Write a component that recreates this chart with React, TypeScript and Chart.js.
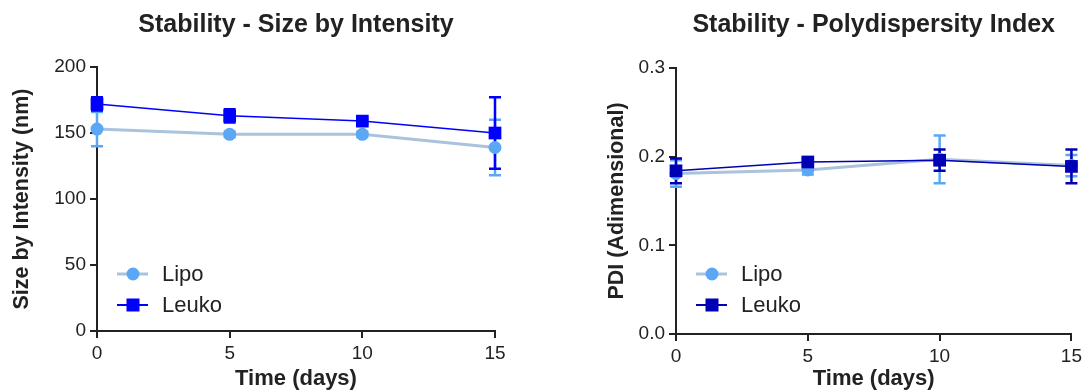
import React, { useEffect, useRef } from "react";
import { Chart, registerables } from "chart.js";

Chart.register(...registerables);

// ---------- data ----------
const days = [0, 5, 10, 15];
const xTicks = [0, 5, 10, 15];

const lipoSize = [153, 149, 149, 139];
const lipoSizeErr = [13, 2, 2, 21];
const leukoSize = [172, 163, 159, 150];
const leukoSizeErr = [5, 5, 2, 27];
const sizeTicks = [0, 50, 100, 150, 200];

const lipoPdi = [0.181, 0.185, 0.197, 0.19];
const lipoPdiErr = [0.015, 0.005, 0.027, 0.012];
const leukoPdi = [0.184, 0.194, 0.196, 0.189];
const leukoPdiErr = [0.014, 0.003, 0.012, 0.019];
const pdiTicks = [0, 0.1, 0.2, 0.3];

const seriesNames = ["Lipo", "Leuko"];

// ---------- styles ----------
const FONT = "'Liberation Sans', Arial, sans-serif";
const INK = "#222222";
const LIPO_MARK = "#5aa8f5";
const LIPO_LINE = "#aac3dc";

const errorBarPlugin = {
  id: "errorBars",
  beforeDatasetsDraw(chart: any) {
    const ctx = chart.ctx;
    const yScale = chart.scales.y;
    const order = chart.data.datasets
      .map((d: any, i: number) => i)
      .sort((a: number, b: number) => (chart.data.datasets[b].order ?? 0) - (chart.data.datasets[a].order ?? 0));
    order.forEach((i: number) => {
      const ds = chart.data.datasets[i];
      const meta = chart.getDatasetMeta(i);
      ctx.save();
      ctx.strokeStyle = ds.errorColor;
      ctx.lineWidth = 2.5;
      meta.data.forEach((pt: any, j: number) => {
        const v = ds.data[j].y;
        const e = ds.errors[j];
        const yTop = yScale.getPixelForValue(v + e);
        const yBot = yScale.getPixelForValue(v - e);
        const x = pt.x;
        const cap = 6;
        ctx.beginPath();
        ctx.moveTo(x, yTop);
        ctx.lineTo(x, yBot);
        ctx.moveTo(x - cap, yTop);
        ctx.lineTo(x + cap, yTop);
        ctx.moveTo(x - cap, yBot);
        ctx.lineTo(x + cap, yBot);
        ctx.stroke();
      });
      ctx.restore();
    });
  },
};

const legendPlugin = {
  id: "insideLegend",
  afterDraw(chart: any) {
    const opts = chart.options.plugins.insideLegend;
    if (!opts) return;
    const ctx = chart.ctx;
    const left = chart.chartArea.left;
    const ys = opts.ys as number[];
    const items = opts.items as any[];
    items.forEach((it: any, k: number) => {
      const y = ys[k];
      const mx = left + 36;
      ctx.save();
      ctx.strokeStyle = it.lineColor;
      ctx.lineWidth = it.lineWidth;
      ctx.beginPath();
      ctx.moveTo(left + 20, y);
      ctx.lineTo(left + 51, y);
      ctx.stroke();
      ctx.fillStyle = it.markColor;
      if (it.shape === "circle") {
        ctx.beginPath();
        ctx.arc(mx, y, 6.5, 0, Math.PI * 2);
        ctx.fill();
      } else {
        ctx.fillRect(mx - 6.5, y - 6.5, 13, 13);
      }
      ctx.fillStyle = INK;
      ctx.font = `22px ${FONT}`;
      ctx.textBaseline = "middle";
      ctx.textAlign = "left";
      ctx.fillText(it.label, left + 65, y + 1);
      ctx.restore();
    });
  },
};

function buildConfig(p: {
  title: string;
  yTitle: string;
  lipo: number[];
  lipoErr: number[];
  leuko: number[];
  leukoErr: number[];
  yTicks: number[];
  leukoColor: string;
  yWidth: number;
  yTitlePad: number;
  titlePadTop: number;
  titlePadBottom: number;
  xHeight: number;
  padRight: number;
  decimals: number;
}) {
  const yMin = p.yTicks[0];
  const yMax = p.yTicks[p.yTicks.length - 1];
  return {
    type: "line",
    data: {
      datasets: [
        {
          label: seriesNames[0],
          data: days.map((d, i) => ({ x: d, y: p.lipo[i] })),
          errors: p.lipoErr,
          errorColor: LIPO_MARK,
          borderColor: LIPO_LINE,
          borderWidth: 3,
          backgroundColor: LIPO_MARK,
          pointBackgroundColor: LIPO_MARK,
          pointBorderColor: LIPO_MARK,
          pointStyle: "circle",
          pointRadius: 6.5,
          pointBorderWidth: 0,
          tension: 0,
          clip: false,
          order: 1,
        },
        {
          label: seriesNames[1],
          data: days.map((d, i) => ({ x: d, y: p.leuko[i] })),
          errors: p.leukoErr,
          errorColor: p.leukoColor,
          borderColor: p.leukoColor,
          borderWidth: 1.5,
          backgroundColor: p.leukoColor,
          pointBackgroundColor: p.leukoColor,
          pointBorderColor: p.leukoColor,
          pointStyle: "rect",
          pointRadius: 9,
          pointBorderWidth: 0,
          tension: 0,
          clip: false,
          order: 0,
        },
      ],
    },
    options: {
      animation: false,
      responsive: false,
      maintainAspectRatio: false,
      layout: { padding: { left: 0, right: p.padRight, top: 0, bottom: 0 } },
      plugins: {
        legend: { display: false },
        tooltip: { enabled: false },
        title: {
          display: true,
          text: p.title,
          fullSize: false,
          color: INK,
          font: { family: FONT, size: 25, weight: "bold" },
          padding: { top: p.titlePadTop, bottom: p.titlePadBottom },
        },
        insideLegend: {
          ys: [274, 305],
          items: [
            { label: seriesNames[0], shape: "circle", markColor: LIPO_MARK, lineColor: LIPO_LINE, lineWidth: 3 },
            { label: seriesNames[1], shape: "rect", markColor: p.leukoColor, lineColor: p.leukoColor, lineWidth: 2 },
          ],
        },
      },
      scales: {
        x: {
          type: "linear",
          min: xTicks[0],
          max: xTicks[xTicks.length - 1],
          afterBuildTicks: (s: any) => {
            s.ticks = xTicks.map((v) => ({ value: v }));
          },
          afterFit: (s: any) => {
            s.height = p.xHeight;
          },
          grid: { display: true, drawOnChartArea: false, drawTicks: true, tickLength: 7, lineWidth: 2, color: INK },
          border: { display: true, width: 2, color: INK },
          ticks: { color: INK, font: { family: FONT, size: 19 }, padding: 4, maxRotation: 0 },
          title: {
            display: true,
            text: "Time (days)",
            color: INK,
            font: { family: FONT, size: 22, weight: "bold" },
            padding: { top: 0, bottom: 0 },
          },
        },
        y: {
          type: "linear",
          min: yMin,
          max: yMax,
          afterBuildTicks: (s: any) => {
            s.ticks = p.yTicks.map((v) => ({ value: v }));
          },
          afterFit: (s: any) => {
            s.width = p.yWidth;
          },
          grid: { display: true, drawOnChartArea: false, drawTicks: true, tickLength: 7, lineWidth: 2, color: INK },
          border: { display: true, width: 2, color: INK },
          ticks: {
            color: INK,
            font: { family: FONT, size: 19 },
            padding: 4,
            callback: (v: any) => Number(v).toFixed(p.decimals),
          },
          title: {
            display: true,
            text: p.yTitle,
            color: INK,
            font: { family: FONT, size: 21.5, weight: "bold" },
            padding: { top: p.yTitlePad, bottom: 0 },
          },
        },
      },
    },
    plugins: [errorBarPlugin, legendPlugin],
  } as any;
}

function ChartCanvas(props: { left: number; width: number; config: any }) {
  const ref = useRef<HTMLCanvasElement | null>(null);
  useEffect(() => {
    if (!ref.current) return;
    const chart = new Chart(ref.current, props.config);
    return () => chart.destroy();
  }, []);
  return (
    <canvas
      ref={ref}
      width={props.width}
      height={392}
      style={{ position: "absolute", left: props.left, top: 0, width: props.width, height: 392 }}
    />
  );
}

export default function App() {
  const leftConfig = buildConfig({
    title: "Stability - Size by Intensity",
    yTitle: "Size by Intensity (nm)",
    lipo: lipoSize,
    lipoErr: lipoSizeErr,
    leuko: leukoSize,
    leukoErr: leukoSizeErr,
    yTicks: sizeTicks,
    leukoColor: "#0000ff",
    yWidth: 97,
    yTitlePad: 9,
    titlePadTop: 10,
    titlePadBottom: 27,
    xHeight: 392 - 331,
    padRight: 45,
    decimals: 0,
  });
  const rightConfig = buildConfig({
    title: "Stability - Polydispersity Index",
    yTitle: "PDI (Adimensional)",
    lipo: lipoPdi,
    lipoErr: lipoPdiErr,
    leuko: leukoPdi,
    leukoErr: leukoPdiErr,
    yTicks: pdiTicks,
    leukoColor: "#0000b4",
    yWidth: 116,
    yTitlePad: 44,
    titlePadTop: 10,
    titlePadBottom: 28,
    xHeight: 392 - 334,
    padRight: 12,
    decimals: 1,
  });
  return (
    <div style={{ position: "absolute", left: 0, top: 0, width: 1086, height: 392, background: "#fff" }}>
      <ChartCanvas left={0} width={540} config={leftConfig} />
      <ChartCanvas left={560} width={526} config={rightConfig} />
    </div>
  );
}
